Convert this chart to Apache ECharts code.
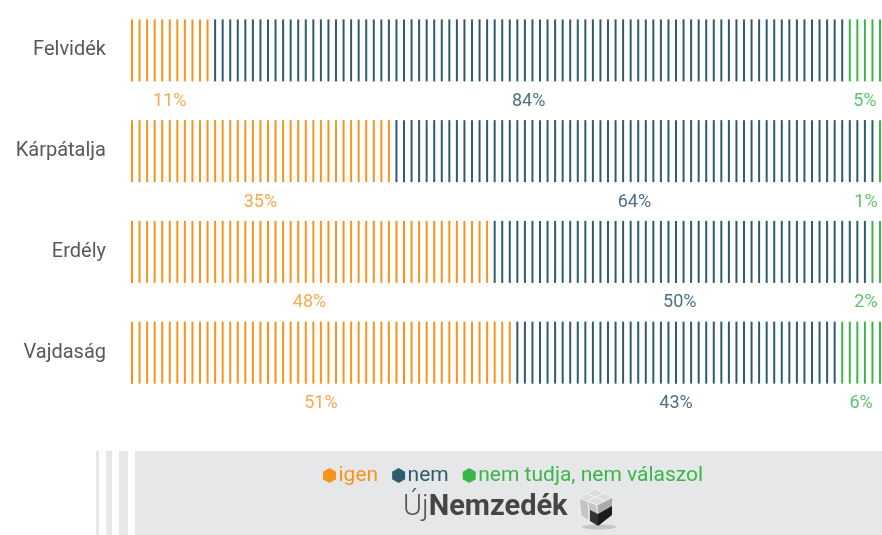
<!DOCTYPE html>
<html lang="hu">
<head>
<meta charset="UTF-8">
<title>igen / nem / nem tudja</title>
<script src="https://cdn.jsdelivr.net/npm/echarts@6/dist/echarts.min.js"></script>
</head>
<body style="margin:0;background:#fff;">
<div id="main" style="width:882px;height:535px;"></div>
<script>
// adatok
var regions = ['Felvidék', 'Kárpátalja', 'Erdély', 'Vajdaság'];
var igen = [11, 35, 48, 51];
var nem = [84, 64, 50, 43];
var nemTudja = [5, 1, 2, 6];

var FONT = 'Roboto, "DejaVu Sans", sans-serif';

// egy csík = 1 százalékpont
function stripeSeries(name, values, starts, color, labelColor) {
    var data = values.map(function (v, i) { return [i, starts[i], v]; });
    return {
        name: name,
        type: 'custom',
        itemStyle: { color: color },
        data: data,
        renderItem: function (params, api) {
            var row = api.value(0), start = api.value(1), n = api.value(2);
            var kids = [];
            for (var k = 0; k < n; k++) {
                var p = api.coord([start + k, row]);
                kids.push({
                    type: 'rect',
                    shape: { x: p[0], y: p[1] - 31, width: 2, height: 62 },
                    style: { fill: color }
                });
            }
            var a = api.coord([start, row]), b = api.coord([start + n - 1, row]);
            var cx = Math.min((a[0] + b[0]) / 2 + 1, 866);
            kids.push({
                type: 'text',
                style: {
                    text: n + '%', x: cx, y: a[1] + 51,
                    fill: labelColor, font: '18px ' + FONT,
                    align: 'center', verticalAlign: 'middle'
                }
            });
            return { type: 'group', children: kids };
        }
    };
}

var startNem = igen.slice();
var startNt = igen.map(function (v, i) { return v + nem[i]; });
var zeros = igen.map(function () { return 0; });

var myChart = echarts.init(document.getElementById('main'));

var option = {
    backgroundColor: '#fff',
    animation: false,
    grid: { left: 131, right: 3, top: -5, height: 408 },
    xAxis: { type: 'value', min: 0, max: 99, show: false },
    yAxis: {
        type: 'category', data: regions, inverse: true,
        axisLine: { show: false }, axisTick: { show: false }, splitLine: { show: false },
        axisLabel: { fontSize: 20, color: '#58595b', margin: 25, fontFamily: FONT }
    },
    legend: {
        left: 318, top: 460,
        itemWidth: 14, itemHeight: 15, itemGap: 14,
        icon: 'path://M50,0 L93.3,25 L93.3,75 L50,100 L6.7,75 L6.7,25 Z',
        textStyle: { fontSize: 21, fontFamily: FONT, padding: [0, 0, 0, -3] },
        data: [
            { name: 'igen', textStyle: { color: '#f7941d' } },
            { name: 'nem', textStyle: { color: '#2e5b6e' } },
            { name: 'nem tudja, nem válaszol', textStyle: { color: '#3bb54a' } }
        ]
    },
    graphic: [
        { type: 'rect', z: -10, shape: { x: 96, y: 451, width: 3, height: 84 }, style: { fill: '#e6e7e8' } },
        { type: 'rect', z: -10, shape: { x: 106, y: 451, width: 6, height: 84 }, style: { fill: '#e6e7e8' } },
        { type: 'rect', z: -10, shape: { x: 119, y: 451, width: 9, height: 84 }, style: { fill: '#e6e7e8' } },
        { type: 'rect', z: -10, shape: { x: 135, y: 451, width: 747, height: 84 }, style: { fill: '#e6e7e8' } },
        {
            type: 'text', left: 403, top: 493,
            style: {
                text: '{a|Új}{b|Nemzedék}',
                rich: {
                    a: { fontSize: 29, fontFamily: FONT, fontWeight: 300, fill: '#555555' },
                    b: { fontSize: 29, fontFamily: FONT, fontWeight: 'bold', fill: '#454545' }
                }
            }
        },
        // kocka logó
        { type: 'ellipse', shape: { cx: 599, cy: 527, rx: 17, ry: 2.5 }, style: { fill: '#c4c5c6' } },
        { type: 'polygon', shape: { points: [[579, 498], [595, 489], [613, 497], [597, 505]] }, style: { fill: '#dcdcdc', stroke: '#f4f4f4', lineWidth: 1 } },
        { type: 'polygon', shape: { points: [[579, 498], [597, 505], [598, 526], [581, 516]] }, style: { fill: '#c4c4c4', stroke: '#f0f0f0', lineWidth: 1 } },
        { type: 'polygon', shape: { points: [[597, 505], [613, 497], [612, 515], [598, 526]] }, style: { fill: '#ababab', stroke: '#ededed', lineWidth: 1 } },
        { type: 'line', shape: { x1: 587, y1: 494, x2: 605, y2: 501 }, style: { stroke: '#f4f4f4', lineWidth: 1 } },
        { type: 'line', shape: { x1: 604, y1: 493, x2: 588, y2: 501 }, style: { stroke: '#f4f4f4', lineWidth: 1 } },
        { type: 'line', shape: { x1: 588, y1: 501, x2: 589, y2: 521 }, style: { stroke: '#efefef', lineWidth: 1 } },
        { type: 'polygon', shape: { points: [[598, 514], [612, 506], [612, 515], [598, 526]] }, style: { fill: '#1c1c1c' } },
        { type: 'polygon', shape: { points: [[590, 510], [598, 514], [598, 526], [590, 521]] }, style: { fill: '#333333' } }
    ],
    series: [
        stripeSeries('igen', igen, zeros, '#f7941d', '#f9a94e'),
        stripeSeries('nem', nem, startNem, '#2e5b6e', '#4b7283'),
        stripeSeries('nem tudja, nem válaszol', nemTudja, startNt, '#3bb54a', '#5ec46c')
    ]
};

myChart.setOption(option);
</script>
</body>
</html>
